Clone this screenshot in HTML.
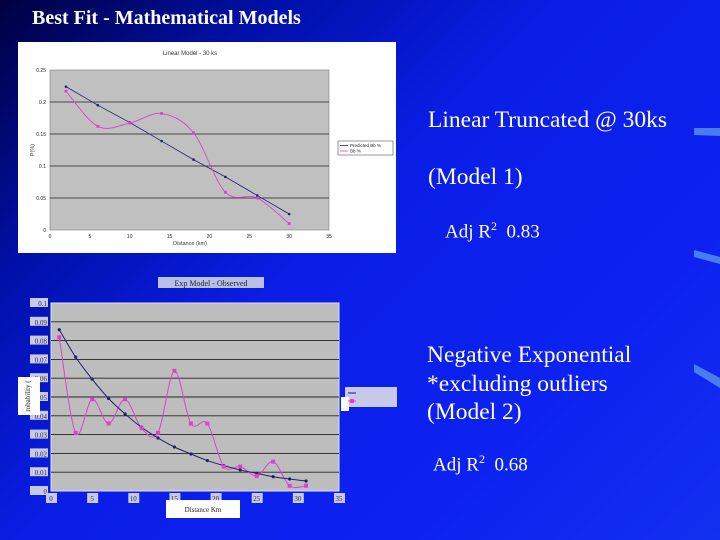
<!DOCTYPE html>
<html><head><meta charset="utf-8"><style>
html,body{margin:0;padding:0}
body{width:720px;height:540px;overflow:hidden;position:relative;font-family:"Liberation Serif",serif;
background:linear-gradient(135deg,#000040 0%,#0010a8 22%,#0a1ee6 45%,#0d22f0 75%,#1230f0 100%);}
.t{position:absolute;color:#fff;white-space:nowrap}
</style></head><body>
<div class="t" style="left:32px;top:7px;font-size:20px;font-weight:bold">Best Fit - Mathematical Models</div>
<div class="t" style="left:428px;top:107px;font-size:23.5px">Linear Truncated @ 30ks</div>
<div class="t" style="left:428px;top:164px;font-size:23.5px">(Model 1)</div>
<div class="t" style="left:445px;top:219px;font-size:19px">Adj R<sup style="font-size:12px">2</sup>&nbsp; 0.83</div>
<div class="t" style="left:427px;top:341px;font-size:23.5px;line-height:28.5px">Negative Exponential<br>*excluding outliers<br>(Model 2)</div>
<div class="t" style="left:433px;top:452px;font-size:19px">Adj R<sup style="font-size:12px">2</sup>&nbsp; 0.68</div>
<svg width="720" height="540" style="position:absolute;left:0;top:0" id="svg">
<g fill="#4a7cf0">
<path d="M694 128 L720 128 L720 136 L694 135 Z"/>
<path d="M694 250 L720 257 L720 264 L694 257 Z"/>
<path d="M694 364 L720 378 L720 388 L694 372 Z"/>
</g>
</svg>
<script>
// Chart 1 data
const c1X=[2,6,10,14,18,22,26,30];
const c1Pred=[0.224,0.195,0.168,0.139,0.110,0.083,0.054,0.025];
const c1Obs=[0.217,0.162,0.167,0.182,0.152,0.059,0.050,0.010];
const c1YTicks=["0","0.05","0.1","0.15","0.2","0.25"];
const c1XTicks=["0","5","10","15","20","25","30","35"];
// Chart 2 data
const c2X=[1,3,5,7,9,11,13,15,17,19,21,23,25,27,29,31];
const c2Pred=[8.58,7.12,5.95,4.92,4.10,3.39,2.82,2.34,1.97,1.62,1.35,1.12,0.94,0.76,0.64,0.53];
const c2Obs=[8.17,3.09,4.88,3.59,4.88,3.34,3.09,6.39,3.59,3.59,1.30,1.30,0.80,1.56,0.28,0.28];
const c2YTicks=["0","0.01","0.02","0.03","0.04","0.05","0.06","0.07","0.08","0.09","0.1"];
const c2XTicks=["0","5","10","15","20","25","30","35"];

const NS="http://www.w3.org/2000/svg";
const svg=document.getElementById('svg');
function mk(tag,attrs,parent){const e=document.createElementNS(NS,tag);for(const k in attrs)e.setAttribute(k,attrs[k]);(parent||svg).appendChild(e);return e;}
function smooth(pts){let d="M"+pts[0][0]+" "+pts[0][1];for(let i=0;i<pts.length-1;i++){const p0=pts[i-1]||pts[i],p1=pts[i],p2=pts[i+1],p3=pts[i+2]||p2;
d+=" C"+(p1[0]+(p2[0]-p0[0])/6)+" "+(p1[1]+(p2[1]-p0[1])/6)+" "+(p2[0]-(p3[0]-p1[0])/6)+" "+(p2[1]-(p3[1]-p1[1])/6)+" "+p2[0]+" "+p2[1];}return d;}

// ---- Chart 1
const g1=mk('g',{});


const bg1=mk('rect',{x:18,y:42,width:378,height:211,fill:'#fff'},g1);


const L1=50,R1=329,T1=70,B1=230;
const sx1=v=>L1+(v/35)*(R1-L1), sy1=v=>B1-(v/0.25)*(B1-T1);
const pa1=mk('rect',{x:L1,y:T1,width:R1-L1,height:B1-T1,fill:'#c0c0c0',stroke:'#808080','stroke-width':0.6},g1);


c1YTicks.forEach((t,i)=>{const v=i*0.05,y=sy1(v);
 if(i>0&&i<5){const gl=mk('line',{x1:L1,x2:R1,y1:y,y2:y,stroke:'#222','stroke-width':0.8},g1);
 
 }
 const tx=mk('text',{x:L1-4,y:y+2,'font-size':5,'text-anchor':'end','font-family':'Liberation Sans, sans-serif',fill:'#222'},g1);tx.textContent=t;
 
 });
c1XTicks.forEach((t,i)=>{const x=sx1(i*5);const tx=mk('text',{x:x,y:B1+8,'font-size':5,'text-anchor':'middle','font-family':'Liberation Sans, sans-serif',fill:'#222'},g1);tx.textContent=t;
 
 });
let tt=mk('text',{x:190,y:55,'font-size':6,'text-anchor':'middle','font-family':'Liberation Sans, sans-serif',fill:'#333'},g1);tt.textContent='Linear Model - 30 ks';


tt=mk('text',{x:190,y:245,'font-size':5.5,'text-anchor':'middle','font-family':'Liberation Sans, sans-serif',fill:'#333'},g1);tt.textContent='Distance (km)';


tt=mk('text',{x:34,y:150,'font-size':5.5,'text-anchor':'middle','font-family':'Liberation Sans, sans-serif',fill:'#333',transform:'rotate(-90 34 150)'},g1);tt.textContent='P(%)';


const pp1=c1X.map((x,i)=>[sx1(x),sy1(c1Pred[i])]);
const ln1=mk('polyline',{points:pp1.map(p=>p.join(',')).join(' '),fill:'none',stroke:'#202080','stroke-width':0.8},g1);


const op1=c1X.map((x,i)=>[sx1(x),sy1(c1Obs[i])]);
const lo1=mk('path',{d:smooth(op1),fill:'none',stroke:'#e040d0','stroke-width':0.9},g1);


pp1.forEach(p=>{const m=mk('circle',{cx:p[0],cy:p[1],r:1.3,fill:'#202080'},g1);
 
 });
op1.forEach(p=>{const m=mk('rect',{x:p[0]-1.4,y:p[1]-1.4,width:2.8,height:2.8,fill:'#e040d0'},g1);
 
 });
const lg1=mk('g',{},g1);


mk('rect',{x:338,y:141,width:55,height:14,fill:'#fff',stroke:'#333','stroke-width':0.5},lg1);
mk('line',{x1:340,x2:348,y1:145.5,y2:145.5,stroke:'#202080','stroke-width':0.8},lg1);
mk('line',{x1:340,x2:348,y1:151,y2:151,stroke:'#e040d0','stroke-width':0.8},lg1);
tt=mk('text',{x:350,y:147,'font-size':4.5,'font-family':'Liberation Sans, sans-serif',fill:'#222'},lg1);tt.textContent='Predicted Bb %';
tt=mk('text',{x:350,y:152.5,'font-size':4.5,'font-family':'Liberation Sans, sans-serif',fill:'#222'},lg1);tt.textContent='Bb %';

// ---- Chart 2
const g2=mk('g',{});


const L2=51,R2=339,T2=303,B2=491;
const sx2=v=>L2+(v/35)*(R2-L2), sy2=v=>B2-(v/10)*(B2-T2);
const pa2=mk('rect',{x:L2,y:T2,width:R2-L2,height:B2-T2,fill:'#bdbdbd',stroke:'#e0e0ff','stroke-width':1},g2);


c2YTicks.forEach((t,i)=>{const y=sy2(i);
 if(i>0&&i<10){const gl=mk('line',{x1:L2,x2:R2,y1:y,y2:y,stroke:'#222','stroke-width':0.9},g2);
 
 }
 mk('rect',{x:30,y:y-5,width:18,height:9,fill:'#c8c8e8'},g2);
 const tx=mk('text',{x:47,y:y+3,'font-size':7,'text-anchor':'end','font-family':'Liberation Serif, serif',fill:'#333'},g2);tx.textContent=t;
 
 });
c2XTicks.forEach((t,i)=>{const x=sx2(i*5);mk('rect',{x:x-5,y:B2+2,width:11,height:10,fill:'#c8c8e8'},g2);
 const tx=mk('text',{x:x,y:B2+10,'font-size':7,'text-anchor':'middle','font-family':'Liberation Serif, serif',fill:'#333'},g2);tx.textContent=t;
 
 });
mk('rect',{x:158,y:277,width:106,height:11,fill:'#b8c0e8'},g2);
tt=mk('text',{x:211,y:286,'font-size':8,'text-anchor':'middle','font-family':'Liberation Serif, serif',fill:'#222'},g2);tt.textContent='Exp Model - Observed';


mk('rect',{x:166,y:500,width:74,height:18,fill:'#fff'},g2);
tt=mk('text',{x:203,y:512,'font-size':7,'text-anchor':'middle','font-family':'Liberation Serif, serif',fill:'#222'},g2);tt.textContent='Distance Km';


mk('rect',{x:18,y:377,width:22,height:38,fill:'#fff'},g2);
tt=mk('text',{x:30,y:396,'font-size':7,'text-anchor':'middle','font-family':'Liberation Serif, serif',fill:'#222',transform:'rotate(-90 30 396)'},g2);tt.textContent='robability (';


const pp2=c2X.map((x,i)=>[sx2(x),sy2(c2Pred[i])]);
const op2=c2X.map((x,i)=>[sx2(x),sy2(c2Obs[i])]);
const lo2=mk('path',{d:smooth(op2),fill:'none',stroke:'#e040d0','stroke-width':1},g2);


const ln2=mk('path',{d:smooth(pp2),fill:'none',stroke:'#202070','stroke-width':1},g2);


pp2.forEach(p=>{const m=mk('circle',{cx:p[0],cy:p[1],r:1.6,fill:'#202070'},g2);
 
 });
op2.forEach(p=>{const m=mk('rect',{x:p[0]-2,y:p[1]-2,width:4,height:4,fill:'#e040d0'},g2);
 
 });
const lg2=mk('g',{},g2);


mk('rect',{x:345,y:387,width:52,height:20,fill:'#c8c8e8'},lg2);
mk('rect',{x:341,y:397,width:8,height:14,fill:'#fff'},lg2);
mk('line',{x1:348,x2:356,y1:393,y2:393,stroke:'#202070','stroke-width':1},lg2);
mk('line',{x1:348,x2:356,y1:401,y2:401,stroke:'#e040d0','stroke-width':1},lg2);
mk('rect',{x:350,y:399,width:4,height:4,fill:'#e040d0'},lg2);
</script>
</body></html>
